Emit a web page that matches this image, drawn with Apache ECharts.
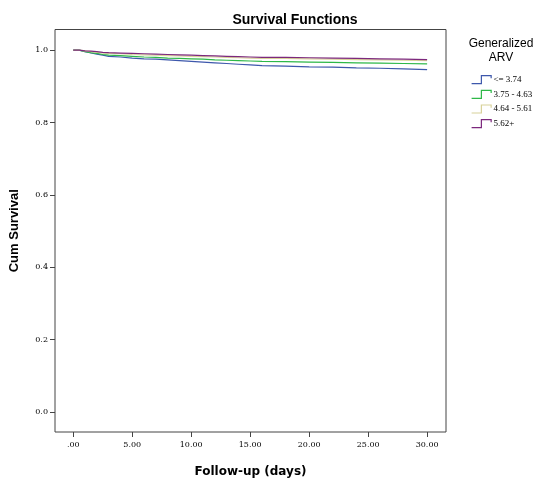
<!DOCTYPE html>
<html>
<head>
<meta charset="utf-8">
<script src="https://cdn.jsdelivr.net/npm/echarts@6/dist/echarts.min.js"></script>
<style>
  html, body { margin: 0; padding: 0; background: #fff; }
  #main { width: 538px; height: 485px; }
</style>
</head>
<body>
<div id="main"></div>
<script>
// 数据: 随访天数 和 各组累计生存率
var days = [0, 0.5, 1, 1.5, 2, 2.5, 3, 4, 5, 6, 7, 8, 9, 10, 11, 12, 13, 14, 15, 16, 18, 20, 22, 24, 26, 28, 30];
var groupNames = ['<= 3.74', '3.75 - 4.63', '4.64 - 5.61', '5.62+'];
var survLow = [1.0, 0.996, 0.992, 0.989, 0.986, 0.983, 0.981, 0.978, 0.976, 0.975, 0.973, 0.971, 0.969, 0.967, 0.965, 0.963, 0.961, 0.959, 0.957, 0.956, 0.954, 0.953, 0.951, 0.950, 0.948, 0.946, 0.945];
var survMid1 = [1.0, 0.996, 0.993, 0.991, 0.988, 0.986, 0.985, 0.983, 0.981, 0.980, 0.978, 0.977, 0.976, 0.975, 0.973, 0.972, 0.971, 0.970, 0.969, 0.968, 0.967, 0.966, 0.965, 0.964, 0.963, 0.962, 0.961];
var survMid2 = [1.0, 0.998, 0.996, 0.994, 0.992, 0.991, 0.990, 0.988, 0.987, 0.986, 0.985, 0.984, 0.983, 0.982, 0.981, 0.980, 0.979, 0.978, 0.977, 0.977, 0.976, 0.975, 0.974, 0.973, 0.972, 0.971, 0.970];
var survHigh = [1.0, 0.998, 0.997, 0.996, 0.994, 0.993, 0.992, 0.991, 0.990, 0.989, 0.988, 0.987, 0.986, 0.985, 0.984, 0.983, 0.982, 0.981, 0.980, 0.980, 0.979, 0.978, 0.977, 0.976, 0.975, 0.974, 0.973];
var xTicks = [0, 5, 10, 15, 20, 25, 30];
var yTicks = [0, 0.2, 0.4, 0.6, 0.8, 1.0];
var colors = ['#3E58AC', '#2EB848', '#D8D29A', '#7C287D'];

var allSurv = [survLow, survMid1, survMid2, survHigh];

function pairs(vals) {
    return days.map(function(d, i) { return [d, vals[i]]; });
}

var stepIcon = 'path://M0,9 L11,9 L11,0 L22,0 L22,3';

var series = groupNames.map(function(name, i) {
    return {
        name: name,
        type: 'line',
        step: 'end',
        symbol: 'none',
        data: pairs(allSurv[i]),
        lineStyle: { color: colors[i], width: 1.2 },
        itemStyle: { color: colors[i] }
    };
});

var myChart = echarts.init(document.getElementById('main'));

var option = {
    animation: false,
    backgroundColor: '#fff',
    title: {
        text: 'Survival Functions',
        left: 290,
        textAlign: 'center',
        top: 8,
        textStyle: { fontFamily: 'Liberation Sans', fontSize: 14, fontWeight: 'bold', color: '#000' }
    },
    grid: {
        left: 51.5, right: 92, top: 29.5, bottom: 53,
        show: true, borderColor: '#444', borderWidth: 1, backgroundColor: '#fff'
    },
    legend: {
        orient: 'vertical',
        left: 466,
        top: 70,
        itemWidth: 22,
        itemHeight: 8,
        itemGap: 5.5,
        icon: stepIcon,
        data: groupNames.map(function(n, i) {
            return { name: n, icon: stepIcon, itemStyle: { color: 'transparent', borderColor: colors[i], borderWidth: 1.2 } };
        }),
        textStyle: { fontFamily: 'Liberation Serif', fontSize: 9, color: '#000', padding: [0, 0, 0, -4] }
    },
    graphic: [{
        type: 'text',
        x: 501, y: 37,
        style: {
            text: 'Generalized\nARV',
            align: 'center',
            fontFamily: 'Liberation Sans', fontSize: 12, lineHeight: 14, fill: '#000'
        }
    }],
    xAxis: {
        type: 'value',
        min: -1.55,
        max: 31.6,
        name: 'Follow-up (days)',
        nameLocation: 'middle',
        nameGap: 34,
        nameTextStyle: { fontFamily: 'DejaVu Sans', fontSize: 12, fontWeight: 'bold', color: '#000' },
        axisLine: { show: false, onZero: false },
        axisTick: { show: true, customValues: xTicks, length: 5, lineStyle: { color: '#444' } },
        axisLabel: {
            customValues: xTicks,
            fontFamily: 'DejaVu Serif', fontSize: 8, color: '#000', margin: 9,
            formatter: function(v) { return v === 0 ? '.00' : v.toFixed(2); }
        },
        splitLine: { show: false }
    },
    yAxis: {
        type: 'value',
        min: -0.055,
        max: 1.057,
        name: 'Cum Survival',
        nameLocation: 'middle',
        nameGap: 34,
        nameTextStyle: { fontFamily: 'Liberation Sans', fontSize: 13, fontWeight: 'bold', color: '#000' },
        axisLine: { show: false, onZero: false },
        axisTick: { show: true, customValues: yTicks, length: 5, lineStyle: { color: '#444' } },
        axisLabel: {
            customValues: yTicks,
            fontFamily: 'DejaVu Serif', fontSize: 8, color: '#000', margin: 7,
            formatter: function(v) { return v.toFixed(1); }
        },
        splitLine: { show: false }
    },
    series: series
};

myChart.setOption(option);
</script>
</body>
</html>
